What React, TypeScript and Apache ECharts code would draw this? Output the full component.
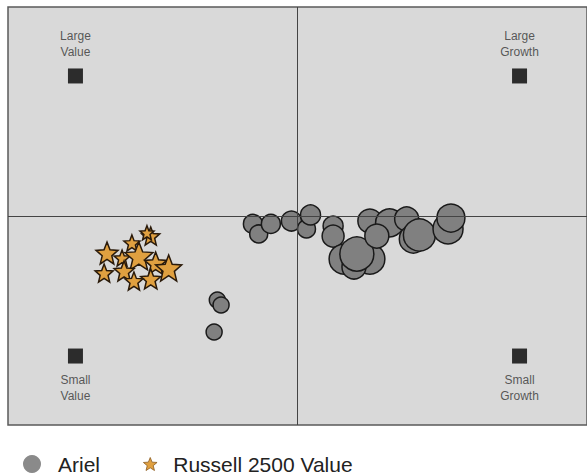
import React, { useEffect, useRef } from "react";
import * as echarts from "echarts";

// Style box corner markers (x: value(-) .. growth(+), y: small(-) .. large(+))
const cornerNames = ["Large\nValue", "Large\nGrowth", "Small\nValue", "Small\nGrowth"];
const cornerX = [-76.7, 76.7, -76.7, 76.7];
const cornerY = [67, 67, -67, -67];

// Ariel holdings over time
const arielX = [-15.4, -13.4, -9.2, -2.1, 3.1, 4.5, 12.3, 12.3, 16.1, 25, 19.5, 20.5, 25, 31.8, 27.4, 37.7, 40, 42.1, 52, 53, -27.7, -26.4, -28.8];
const arielY = [-3.8, -8.6, -3.8, -2.4, -6.2, 0.5, -4.8, -9.6, -20.6, -20.6, -24.4, -18.2, -2.4, -3.3, -9.6, -1.4, -11, -9.1, -6.2, -1, -40.2, -42.6, -55.5];
const arielSize = [19, 18, 19, 20, 18, 20, 20, 22, 30, 30, 24, 34, 24, 28, 24, 24, 28, 32, 30, 28, 16, 16, 16];

// Russell 2500 Value benchmark over time
const russellX = [-65.8, -66.8, -57.2, -50.7, -60.6, -54.8, -59.9, -49, -44.5, -50.7, -56.5, -52];
const russellY = [-17.7, -27.3, -12.9, -9.6, -20.1, -19.1, -26.3, -22.5, -24.9, -30.1, -31.1, -8];
const russellSize = [22, 18, 16, 18, 16, 28, 20, 22, 26, 20, 18, 14];

const STAR =
  "path://M50 0 L62.9 32.2 L97.6 34.5 L70.9 56.8 L79.4 90.5 L50 72 L20.6 90.5 L29.1 56.8 L2.4 34.5 L37.1 32.2 Z";

export default function App() {
  const ref = useRef<HTMLDivElement>(null);
  useEffect(() => {
    document.body.style.margin = "0";
    const chart = echarts.init(ref.current!, null, { renderer: "svg" });
    const corners = cornerNames.map((n, i) => ({
      name: n,
      value: [cornerX[i], cornerY[i]],
      label: { position: cornerY[i] > 0 ? "top" : "bottom" },
    }));
    const ariel = arielX.map((x, i) => [x, arielY[i], arielSize[i]]);
    const russell = russellX.map((x, i) => [x, russellY[i], russellSize[i]]);
    const narrow = "'Liberation Sans Narrow', 'Arial Narrow', 'Liberation Sans', Arial, sans-serif";
    const legendText = {
      fontFamily: "'Liberation Sans', Arial, sans-serif",
      fontSize: 21,
      lineHeight: 22,
      color: "#222222",
    };
    chart.setOption({
      animation: false,
      backgroundColor: "#ffffff",
      grid: {
        left: 8,
        top: 7,
        width: 584,
        height: 418,
        show: true,
        backgroundColor: "#d9d9d9",
        borderColor: "#5a5a5a",
        borderWidth: 1.5,
      },
      xAxis: { type: "value", min: -100, max: 100, show: false },
      yAxis: { type: "value", min: -100, max: 100, show: false },
      legend: [
        {
          left: 18,
          top: 448,
          padding: 5,
          itemWidth: 18,
          itemHeight: 18,
          selectedMode: false,
          textStyle: { ...legendText, padding: [0, 0, 0, 12] },
          data: [{ name: "Ariel", icon: "circle", itemStyle: { borderWidth: 0, color: "#8a8a8a" } }],
        },
        {
          left: 138,
          top: 448,
          padding: 5,
          itemWidth: 14,
          itemHeight: 13,
          selectedMode: false,
          textStyle: { ...legendText, padding: [0, 0, 0, 11] },
          data: [
            {
              name: "Russell 2500 Value",
              icon: STAR,
              itemStyle: { borderWidth: 0.8, borderColor: "#8a5a20", color: "#e0a040" },
            },
          ],
        },
      ],
      series: [
        {
          name: "corners",
          type: "scatter",
          symbol: "rect",
          symbolSize: 15,
          silent: true,
          itemStyle: { color: "#000000" },
          label: {
            show: true,
            formatter: "{b}",
            distance: 8,
            fontFamily: narrow,
            fontSize: 12,
            lineHeight: 16,
            color: "#333333",
            align: "center",
          },
          data: corners,
          markLine: {
            silent: true,
            symbol: "none",
            label: { show: false },
            lineStyle: { color: "#444444", width: 1, type: "solid" },
            data: [{ xAxis: 0 }, { yAxis: 0 }],
          },
          z: 1,
        },
        {
          name: "Ariel",
          type: "scatter",
          symbol: "circle",
          symbolSize: (v: number[]) => v[2],
          itemStyle: { color: "#808080", borderColor: "#1a1a1a", borderWidth: 1.5, opacity: 1 },
          emphasis: { disabled: true },
          data: ariel,
          z: 3,
        },
        {
          name: "Russell 2500 Value",
          type: "scatter",
          symbol: STAR,
          symbolSize: (v: number[]) => v[2],
          itemStyle: { color: "#e0a040", borderColor: "#2a1a0a", borderWidth: 1.5, opacity: 1 },
          emphasis: { disabled: true },
          data: russell,
          z: 4,
        },
      ],
    });
    return () => chart.dispose();
  }, []);
  return <div ref={ref} style={{ width: 587, height: 476 }} />;
}
